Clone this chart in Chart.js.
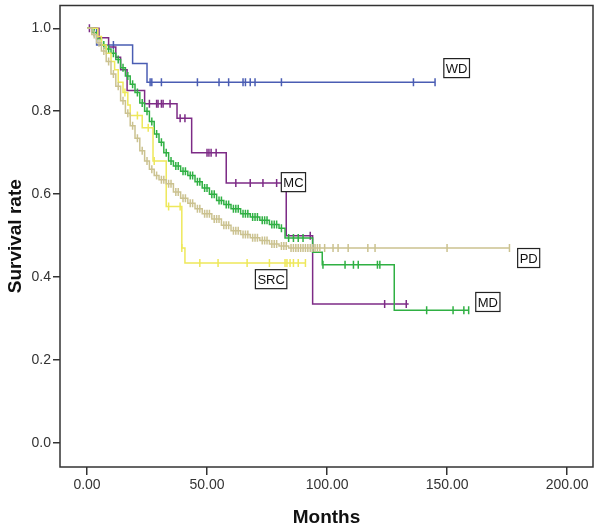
<!DOCTYPE html>
<html><head><meta charset="utf-8">
<script src="https://cdn.jsdelivr.net/npm/chart.js@4.4.1/dist/chart.umd.min.js"></script>
<style>html,body{margin:0;padding:0;background:#fff;}</style>
</head><body>
<canvas id="c" width="600" height="531"></canvas>
<script>
// ---- Data (months, survival rate) ----
const xTicks = [0, 50, 100, 150, 200];
const yTicks = [0, 0.2, 0.4, 0.6, 0.8, 1.0];

const wdT = [0, 4, 19, 25, 145];
const wdS = [1.0, 0.96, 0.915, 0.87, 0.87];
const wdCens = [11, 26.3, 27, 31, 46, 55, 59, 65, 66, 68, 70, 81, 136, 145];

const mcT = [0, 5, 9, 12, 14, 16.7, 24, 37.5, 43.6, 58, 83, 94, 134];
const mcS = [1.0, 0.977, 0.955, 0.93, 0.9, 0.85, 0.818, 0.783, 0.70, 0.627, 0.50, 0.335, 0.335];
const mcCens = [1, 26, 29, 29.6, 31, 31.7, 34.6, 38.8, 40.8, 50, 50.8, 51.7, 53.8, 62, 68, 73.3, 79, 93, 124, 133];

const mdT = [0,2,4,6,8,10,12,14,16,18,20,22,24,26,28,30,32,34,36,39,42,45,48,51,54,57,60,64,68,72,76,80,82.5,94,98,128,159];
const mdS = [1.0,0.99,0.975,0.96,0.95,0.94,0.925,0.905,0.885,0.865,0.845,0.82,0.80,0.775,0.745,0.725,0.70,0.68,0.668,0.655,0.645,0.63,0.615,0.60,0.585,0.575,0.565,0.553,0.545,0.537,0.527,0.518,0.494,0.46,0.43,0.32,0.32];
const mdCens = [3,7,9,11,13,15,17,19,21,23,25,27,29,31,33,35,37,38,40,41,43,44,46,47,49,50,52,53,55,56,58,59,61,62,63,65,66,67,69,70,71,73,74,75,77,78,79,81,84,86,88,90,98.3,107.5,111,113,121,122,141.5,152.5,157,159];

const pdT = [0,2,4,6,8,10,12,14,16,18,20,22,24,26,28,30,33,36,39,42,45,48,52,56,60,64,68,72,76,80,84,176];
const pdS = [1.0,0.985,0.965,0.945,0.92,0.89,0.86,0.825,0.795,0.765,0.735,0.705,0.68,0.66,0.645,0.635,0.625,0.605,0.59,0.578,0.565,0.553,0.54,0.525,0.512,0.503,0.495,0.488,0.48,0.475,0.47,0.47];
const pdCens = [3,5,7,9,11,13,15,17,19,21,23,25,27,29,31,32,34,35,37,38,40,41,43,44,46,47,49,50,51,53,54,55,57,58,59,61,62,63,65,66,67,69,70,71,73,74,75,77,78,79,81,82,83,85,86,87,88,89,90,91,92,93,94,95,96,97,99,102.5,104.6,108.8,117,120,150,176];

const srcT = [0, 4.5, 6, 8, 10, 11.5, 13, 15, 17, 18, 23, 27.5, 33, 39.5, 40.8, 91];
const srcS = [1.0, 0.98, 0.96, 0.94, 0.92, 0.90, 0.87, 0.845, 0.815, 0.79, 0.76, 0.68, 0.57, 0.47, 0.434, 0.434];
const srcCens = [15.8, 21, 25.5, 28, 34, 38.8, 39.5, 47, 54.6, 66.7, 76, 82.5, 83.3, 84.6, 86, 88, 91];

const groupNames = ['WD', 'MC', 'MD', 'PD', 'SRC'];
const labelT = [154, 86, 167, 184, 76.7];
const labelS = [0.904, 0.629, 0.34, 0.446, 0.395];

// ---- helpers ----
function curve(ts, ss) { return ts.map((t, i) => ({x: t, y: ss[i]})); }
function censorPts(ts, ss, cs) {
  return cs.map(c => {
    let v = ss[0];
    for (let i = 0; i < ts.length; i++) { if (ts[i] <= c) v = ss[i]; }
    return {x: c, y: v};
  });
}
const groups = [
  {name: 'PD', t: pdT, s: pdS, c: pdCens, color: '#cbc290'},
  {name: 'SRC', t: srcT, s: srcS, c: srcCens, color: '#eee85a'},
  {name: 'MD', t: mdT, s: mdS, c: mdCens, color: '#2fb043'},
  {name: 'MC', t: mcT, s: mcS, c: mcCens, color: '#7d2b86'},
  {name: 'WD', t: wdT, s: wdS, c: wdCens, color: '#4a5db3'}
];
const datasets = [];
groups.forEach(g => {
  datasets.push({label: g.name, data: curve(g.t, g.s), showLine: true, stepped: 'before',
    borderColor: g.color, borderWidth: 1.5, pointRadius: 0, fill: false});
  datasets.push({label: g.name + ' censored', data: censorPts(g.t, g.s, g.c), showLine: false,
    pointStyle: 'line', rotation: 90, pointRadius: 4, borderColor: g.color, borderWidth: 1.5,
    backgroundColor: g.color});
});

const framePlugin = {
  id: 'frame',
  afterDatasetsDraw(chart) {
    const {ctx, chartArea: a, scales} = chart;
    ctx.save();
    ctx.strokeStyle = '#333';
    ctx.lineWidth = 1.5;
    ctx.strokeRect(a.left, a.top, a.right - a.left, a.bottom - a.top);
    // group labels
    ctx.font = '13px "Liberation Sans", Arial, sans-serif';
    ctx.textAlign = 'center';
    ctx.textBaseline = 'middle';
    groupNames.forEach((n, i) => {
      const x = scales.x.getPixelForValue(labelT[i]);
      const y = scales.y.getPixelForValue(labelS[i]);
      const w = ctx.measureText(n).width + 4;
      const h = 19;
      ctx.fillStyle = '#fff';
      ctx.fillRect(x - w / 2, y - h / 2, w, h);
      ctx.lineWidth = 1.2;
      ctx.strokeStyle = '#222';
      ctx.strokeRect(x - w / 2, y - h / 2, w, h);
      ctx.fillStyle = '#111';
      ctx.fillText(n, x, y + 1);
    });
    ctx.restore();
  }
};

new Chart(document.getElementById('c'), {
  type: 'scatter',
  data: {datasets},
  options: {
    responsive: false,
    animation: false,
    devicePixelRatio: 1,
    layout: {padding: {top: 5, right: 7, left: 0, bottom: 0}},
    plugins: {legend: {display: false}, tooltip: {enabled: false}},
    scales: {
      x: {
        type: 'linear', min: -11.25, max: 210.8,
        afterBuildTicks: s => { s.ticks = xTicks.map(v => ({value: v})); },
        afterFit: s => { s.height = 64; s.paddingLeft = 0; s.paddingRight = 0; },
        border: {display: false},
        grid: {drawOnChartArea: false, drawTicks: true, tickLength: 8, color: '#333', lineWidth: 1.5},
        ticks: {color: '#333', font: {size: 14, family: '"Liberation Sans", Arial, sans-serif'}, padding: 2,
          maxRotation: 0, callback: v => Number(v).toFixed(2)},
        title: {display: true, text: 'Months', color: '#111', padding: {top: 4, bottom: 2},
          font: {size: 19, weight: 'bold', family: '"Liberation Sans", Arial, sans-serif'}}
      },
      y: {
        type: 'linear', min: -0.058, max: 1.055,
        afterBuildTicks: s => { s.ticks = yTicks.map(v => ({value: v})); },
        afterFit: s => { s.width = 60; s.paddingTop = 0; s.paddingBottom = 0; },
        border: {display: false},
        grid: {drawOnChartArea: false, drawTicks: true, tickLength: 7, color: '#333', lineWidth: 1.5},
        ticks: {color: '#333', font: {size: 14, family: '"Liberation Sans", Arial, sans-serif'}, padding: 2,
          callback: v => Number(v).toFixed(1)},
        title: {display: true, text: 'Survival rate', color: '#111', padding: {top: 4, bottom: 2},
          font: {size: 19, weight: 'bold', family: '"Liberation Sans", Arial, sans-serif'}}
      }
    }
  },
  plugins: [framePlugin]
});
</script>
</body></html>
